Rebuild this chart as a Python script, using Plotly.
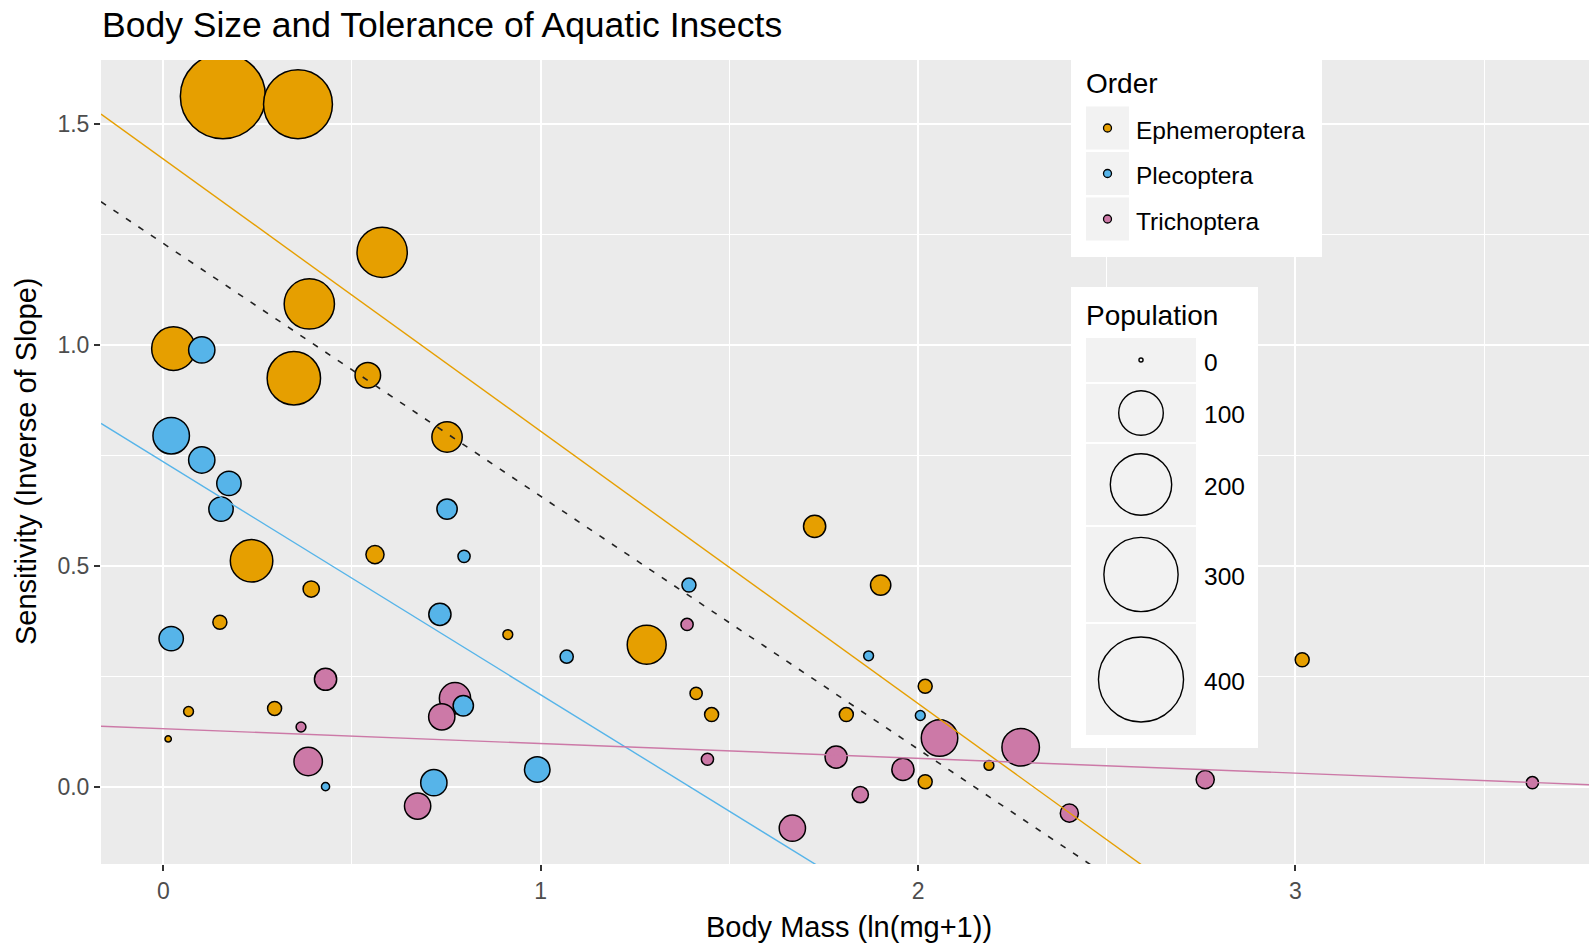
import numpy as np
import plotly.graph_objects as go

# ---------------- data ----------------
orders = ["Ephemeroptera", "Plecoptera", "Trichoptera"]
colors = ["#E69F00", "#56B4E9", "#CC79A7"]

eph_x = [0.158, 0.357, 0.580, 0.387, 0.027, 0.346, 0.542, 0.752, 0.234, 0.561, 0.392, 0.150, 0.067,
         0.013, 0.295, 0.913, 1.281, 1.726, 1.901, 1.412, 1.453, 1.810, 2.019, 2.019, 2.188, 3.018]
eph_y = [1.562, 1.544, 1.209, 1.092, 0.991, 0.924, 0.931, 0.791, 0.511, 0.525, 0.447, 0.372, 0.170,
         0.108, 0.177, 0.344, 0.321, 0.589, 0.456, 0.211, 0.163, 0.163, 0.227, 0.011, 0.048, 0.287]
eph_pop = [400, 256, 130, 130, 95, 148, 28, 42, 90, 12, 9, 6, 2,
           0.3, 6, 2, 74, 20, 16, 4, 6, 6, 6, 6, 2, 6]

ple_x = [0.102, 0.021, 0.102, 0.174, 0.153, 0.752, 0.797, 0.733, 0.021, 0.795, 0.717, 0.430, 0.991,
         1.069, 1.393, 1.869, 2.006]
ple_y = [0.988, 0.794, 0.739, 0.686, 0.628, 0.628, 0.521, 0.390, 0.335, 0.183, 0.009, 0.000, 0.039,
         0.294, 0.456, 0.296, 0.161]
ple_pop = [30, 64, 30, 25, 25, 16, 4, 20, 25, 16, 30, 1, 28, 5, 6, 2, 2]

tri_x = [0.430, 0.365, 0.384, 0.773, 0.738, 0.674, 1.388, 1.442, 1.667, 1.783, 1.847, 1.960, 2.057,
         2.272, 2.401, 2.761, 3.628]
tri_y = [0.243, 0.135, 0.057, 0.200, 0.158, -0.044, 0.367, 0.062, -0.094, 0.067, -0.018, 0.039, 0.110,
         0.089, -0.060, 0.016, 0.009]
tri_pop = [20, 2, 36, 45, 30, 30, 4, 4, 30, 20, 9, 20, 64, 68, 12, 12, 4]

# fitted lines: (intercept, slope)
fit_names = ["Ephemeroptera", "Plecoptera", "Trichoptera", "All"]
fit_intercepts = [1.420, 0.735, 0.131, 1.229]
fit_slopes = [-0.616, -0.527, -0.0335, -0.572]

size_breaks = [0, 100, 200, 300, 400]

x_ticks = [0, 1, 2, 3]
y_ticks = [0.0, 0.5, 1.0, 1.5]

# ---------------- layout constants ----------------
W, H = 1589, 946
PL, PR, PT, PB = 101, 1589, 60, 864   # plot area in pixels
X_RANGE = [-0.165, 3.778]
Y_RANGE = [-0.175, 1.644]
FONT = "Liberation Sans, Arial, sans-serif"


def size_px(pop):
    return 4.1 + 4.05 * np.sqrt(np.asarray(pop, dtype=float))


def fx(p):
    return (p - PL) / (PR - PL)


def fy(p):
    return (PB - p) / (PB - PT)


fig = go.Figure()

series = [(eph_x, eph_y, eph_pop, colors[0], orders[0]),
          (tri_x, tri_y, tri_pop, colors[2], orders[2]),
          (ple_x, ple_y, ple_pop, colors[1], orders[1])]
for xs, ys, ps, col, name in series:
    fig.add_trace(go.Scatter(
        x=xs, y=ys, mode="markers", name=name, showlegend=False,
        marker=dict(size=size_px(ps), color=col, opacity=1,
                    line=dict(color="black", width=1.5)),
    ))

line_styles = {"Ephemeroptera": dict(color=colors[0], width=1.4),
               "Plecoptera": dict(color=colors[1], width=1.4),
               "Trichoptera": dict(color=colors[2], width=1.4),
               "All": dict(color="#222222", width=1.6, dash="6px,9px")}
xl = np.array(X_RANGE)
for name, b, m in zip(fit_names, fit_intercepts, fit_slopes):
    fig.add_trace(go.Scatter(x=xl, y=b + m * xl, mode="lines", showlegend=False,
                             line=line_styles[name], hoverinfo="skip"))

# ---------------- manual legends ----------------
shapes = []
annotations = []

# Order legend box
shapes.append(dict(type="rect", xref="paper", yref="paper", layer="above",
                   x0=fx(1071), x1=fx(1322), y0=fy(60), y1=fy(257),
                   fillcolor="white", line=dict(width=0)))
annotations.append(dict(text="Order", xref="paper", yref="paper", x=fx(1084), y=fy(84),
                        xanchor="left", yanchor="middle", showarrow=False,
                        font=dict(family=FONT, size=28, color="black")))
order_rows = [128, 173.5, 219]
for name, col, cy in zip(orders, colors, order_rows):
    shapes.append(dict(type="rect", xref="paper", yref="paper", layer="above",
                       x0=fx(1086), x1=fx(1129), y0=fy(cy - 21.5), y1=fy(cy + 21.5),
                       fillcolor="#F2F2F2", line=dict(width=0)))
    shapes.append(dict(type="circle", xref="paper", yref="paper", layer="above",
                       xsizemode="pixel", ysizemode="pixel",
                       xanchor=fx(1107.5), yanchor=fy(cy), x0=-4, x1=4, y0=-4, y1=4,
                       fillcolor=col, line=dict(color="black", width=1.3)))
    annotations.append(dict(text=name, xref="paper", yref="paper", x=fx(1134), y=fy(cy + 2),
                            xanchor="left", yanchor="middle", showarrow=False,
                            font=dict(family=FONT, size=24.5, color="black")))

# Population legend box
shapes.append(dict(type="rect", xref="paper", yref="paper", layer="above",
                   x0=fx(1071), x1=fx(1258), y0=fy(287), y1=fy(748),
                   fillcolor="white", line=dict(width=0)))
annotations.append(dict(text="Population", xref="paper", yref="paper", x=fx(1084), y=fy(315),
                        xanchor="left", yanchor="middle", showarrow=False,
                        font=dict(family=FONT, size=28, color="black")))
pop_rows = [(338, 382), (384, 442), (444, 525), (527, 622), (624, 735)]
for v, (r0, r1) in zip(size_breaks, pop_rows):
    cy = (r0 + r1) / 2
    d = float(size_px(v))
    shapes.append(dict(type="rect", xref="paper", yref="paper", layer="above",
                       x0=fx(1086), x1=fx(1196), y0=fy(r0), y1=fy(r1),
                       fillcolor="#F2F2F2", line=dict(width=0)))
    shapes.append(dict(type="circle", xref="paper", yref="paper", layer="above",
                       xsizemode="pixel", ysizemode="pixel",
                       xanchor=fx(1141), yanchor=fy(cy), x0=-d / 2, x1=d / 2, y0=-d / 2, y1=d / 2,
                       fillcolor="rgba(0,0,0,0)", line=dict(color="black", width=1.4)))
    annotations.append(dict(text=str(v), xref="paper", yref="paper", x=fx(1202), y=fy(cy + 2),
                            xanchor="left", yanchor="middle", showarrow=False,
                            font=dict(family=FONT, size=24.5, color="black")))

# titles
annotations.append(dict(text="Body Size and Tolerance of Aquatic Insects", xref="paper", yref="paper",
                        x=fx(100), y=fy(25.5), xanchor="left", yanchor="middle", showarrow=False,
                        font=dict(family=FONT, size=35.5, color="black")))
annotations.append(dict(text="Body Mass (ln(mg+1))", xref="paper", yref="paper",
                        x=fx(849), y=fy(927), xanchor="center", yanchor="middle", showarrow=False,
                        font=dict(family=FONT, size=29, color="black")))
annotations.append(dict(text="Sensitivity (Inverse of Slope)", xref="paper", yref="paper",
                        x=fx(26), y=fy(462), xanchor="center", yanchor="middle", showarrow=False,
                        textangle=-90, font=dict(family=FONT, size=29, color="black")))

fig.update_layout(
    width=W, height=H,
    margin=dict(l=PL, r=W - PR, t=PT, b=H - PB, pad=0),
    paper_bgcolor="white", plot_bgcolor="#EBEBEB",
    showlegend=False,
    shapes=shapes, annotations=annotations,
    font=dict(family=FONT),
    xaxis=dict(range=X_RANGE, tickmode="array", tickvals=x_ticks, ticktext=[str(t) for t in x_ticks],
               showgrid=True, gridcolor="white", gridwidth=2.2, zeroline=False, showline=False,
               ticks="outside", ticklen=6, tickwidth=1.6, tickcolor="#333333",
               tickfont=dict(family=FONT, size=23, color="#4D4D4D"),
               minor=dict(tickmode="linear", tick0=0.5, dtick=1, showgrid=True,
                          gridcolor="white", gridwidth=1.1, ticks="")),
    yaxis=dict(range=Y_RANGE, tickmode="array", tickvals=y_ticks,
               ticktext=["%.1f" % t for t in y_ticks],
               showgrid=True, gridcolor="white", gridwidth=2.2, zeroline=False, showline=False,
               ticks="outside", ticklen=6, tickwidth=1.6, tickcolor="#333333",
               tickfont=dict(family=FONT, size=23, color="#4D4D4D"),
               minor=dict(tickmode="linear", tick0=0.25, dtick=0.5, showgrid=True,
                          gridcolor="white", gridwidth=1.1, ticks="")),
)

fig.write_html("out.html")
